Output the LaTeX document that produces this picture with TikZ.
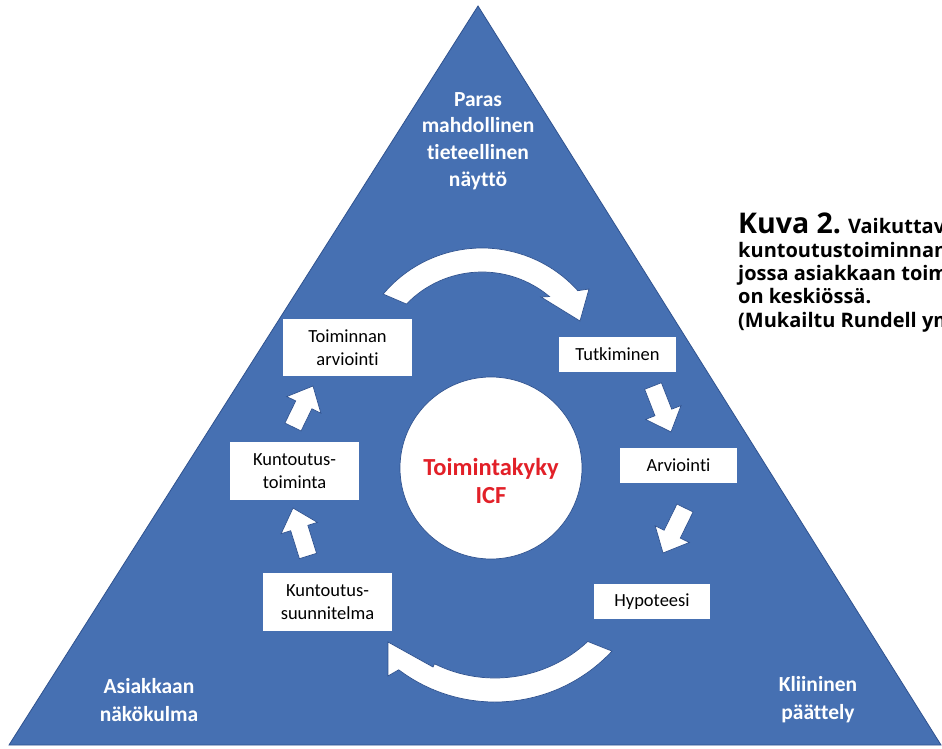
\documentclass[tikz,border=0pt]{standalone}
\usepackage{fontspec}
\setmainfont{Carlito}[RawFeature={-liga;-dlig;-clig}]
\newfontfamily\capfont{Open Sans}
\usetikzlibrary{calc}

\definecolor{trifill}{RGB}{70,112,178}
\definecolor{triline}{RGB}{47,82,143}
\definecolor{icfred}{RGB}{226,32,40}

\tikzset{
  boxnode/.style={fill=white, inner sep=0pt, align=center, text=black,
    font=\fontsize{18.5}{22.5}\selectfont},
  toplabel/.style={text=white, align=center, inner sep=0pt,
    font=\bfseries\fontsize{21.5}{26.7}\selectfont},
  cornerlabel/.style={text=white, align=center, inner sep=0pt,
    font=\bfseries\fontsize{21.5}{28}\selectfont},
  whiteshape/.style={fill=white, draw=triline, line width=0.7pt, line join=miter},
  captext/.style={anchor=base west, inner sep=0pt,
    font=\capfont\bfseries\fontsize{20}{23}\selectfont}
}

% straight block arrow from tail #2 to tip #3
\newcommand\blockarr[3]{%
  \coordinate (#1t) at #2;
  \coordinate (#1p) at #3;
  \coordinate (#1b) at ($(#1p)!21pt!(#1t)$);
  \filldraw[whiteshape]
    ($(#1t)!9pt!90:(#1p)$) -- ($(#1b)!9pt!90:(#1p)$) -- ($(#1b)!19pt!90:(#1p)$)
    -- (#1p)
    -- ($(#1b)!19pt!-90:(#1p)$) -- ($(#1b)!9pt!-90:(#1p)$) -- ($(#1t)!9pt!-90:(#1p)$)
    -- cycle;
}

\begin{document}
\begin{tikzpicture}[x=1pt, y=-1pt]
  \useasboundingbox (0,0) rectangle (942,749);
  \fill[white] (0,0) rectangle (942,749);

  % the triangle
  \coordinate (apex) at (478,6);
  \coordinate (bl) at (9,745);
  \coordinate (br) at (941,745);
  \filldraw[fill=trifill, draw=triline, line width=0.8pt, line join=miter]
    (bl) -- (apex) -- (br) -- cycle;

  % corner labels
  \node[toplabel] (evidence) at (478,141) {Paras\\mahdollinen\\tieteellinen\\näyttö};
  \node[cornerlabel] (client) at (149,700) {Asiakkaan\\näkökulma};
  \node[cornerlabel] (clinical) at (818,700) {Kliininen\\päättely};

  % centre
  \node[circle, whiteshape, minimum size=182pt, inner sep=0pt] (icf) at (491,468) {};
  \node[text=icfred, align=center, inner sep=0pt,
        font=\bfseries\fontsize{24.5}{28}\selectfont] (icftext) at (491,481)
        {Toimintakyky\\ICF};

  % process boxes
  \node[boxnode, minimum width=129pt, minimum height=57pt] (arv1) at (347.5,347.5) {Toiminnan\\arviointi};
  \node[boxnode, minimum width=117pt, minimum height=35pt] (tutk) at (617.5,354.5) {Tutkiminen};
  \node[boxnode, minimum width=117pt, minimum height=35pt] (arv2) at (678.5,465.5) {Arviointi};
  \node[boxnode, minimum width=116pt, minimum height=35pt] (hyp) at (652,601.5) {Hypoteesi};
  \node[boxnode, minimum width=129pt, minimum height=58pt] (suun) at (327.5,602) {Kuntoutus-\\suunnitelma};
  \node[boxnode, minimum width=129pt, minimum height=58pt] (toim) at (294.5,471) {Kuntoutus-\\toiminta};

  % straight block arrows
  \blockarr{aA}{(653,386)}{(671,432)}
  \blockarr{aB}{(685,508)}{(663,553)}
  \blockarr{aC}{(308,556)}{(293,508)}
  \blockarr{aD}{(293,427)}{(313,386)}

  % curved arrow over the top
  \coordinate (topc) at (482,377);
  \filldraw[whiteshape]
    (topc) ++(-140:129) arc[start angle=-140, end angle=-42, radius=129]
    -- (589,289) -- (580,321) -- (541,297)
    -- ($(topc)+(-50:105)$) arc[start angle=-50, end angle=-136, radius=105]
    -- cycle;

  % curved arrow along the bottom
  \coordinate (botc) at (495,542);
  \filldraw[whiteshape]
    (botc) ++(43:160) arc[start angle=43, end angle=127, radius=160]
    -- (388,676) -- (388,642) -- (433,667)
    -- ($(botc)+(116.4:136)$) arc[start angle=116.4, end angle=47, radius=136]
    -- cycle;

  % caption
  \node[captext] (cap1) at (738,233) {{\fontsize{28.5}{28.5}\selectfont Kuva 2.} Vaikuttav};
  \node[captext] (cap2) at (738,257) {kuntoutustoiminnan};
  \node[captext] (cap3) at (738,280) {jossa asiakkaan toim};
  \node[captext] (cap4) at (738,303.5) {on keskiössä.};
  \node[captext] (cap5) at (738,327) {(Mukailtu Rundell ym};
\end{tikzpicture}
\end{document}
